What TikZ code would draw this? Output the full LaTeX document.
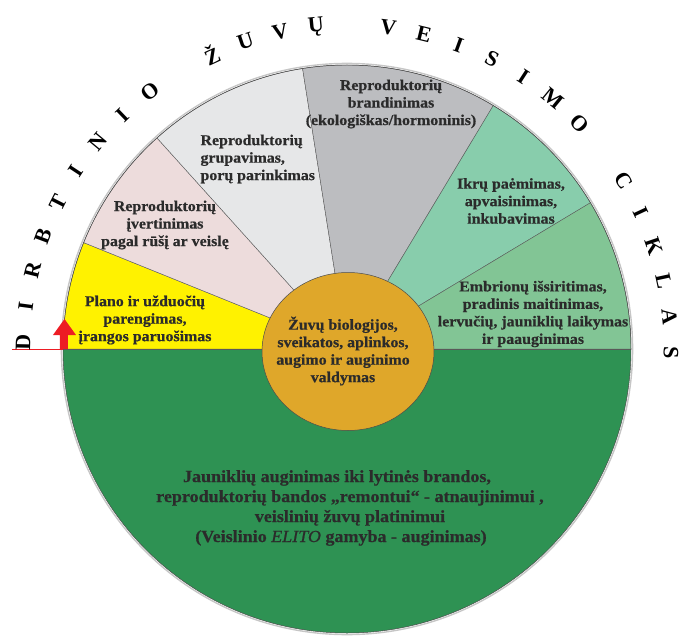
\documentclass[tikz,border=0pt]{standalone}
\usepackage{fontspec}
\setmainfont{Liberation Serif}
\newfontfamily\lblfont{Liberation Serif}[FakeStretch=1.06, FakeBold=0.6]
\definecolor{fyellow}{HTML}{FFF200}
\definecolor{fpink}{HTML}{EDDCDC}
\definecolor{flgray}{HTML}{E6E7E8}
\definecolor{fdgray}{HTML}{BCBDC0}
\definecolor{fteal}{HTML}{88CDAC}
\definecolor{fgreen}{HTML}{82C595}
\definecolor{dgreen}{HTML}{2E9253}
\definecolor{fgold}{HTML}{DFA72A}
\definecolor{txtgray}{HTML}{2B2B2B}
\definecolor{arrowred}{HTML}{ED1C24}
\tikzset{
  sector/.style={draw=black!65, line width=0.4pt},
  lbl/.style={align=center, text=txtgray, font=\lblfont\bfseries\fontsize{15}{17.5}\selectfont},
  biglbl/.style={align=center, text=txtgray, font=\lblfont\bfseries\fontsize{17}{20}\selectfont},
  ttl/.style={font=\bfseries\fontsize{22}{22}\selectfont, inner sep=0pt}
}
\begin{document}
\begin{tikzpicture}[x=1pt,y=1pt]
\useasboundingbox (-347,-286) rectangle (333,349);
\fill[dgreen] (0,0) -- (180:284) arc[start angle=180, end angle=360, radius=284] -- cycle;
\foreach \a/\b/\c in {180/158/fyellow, 158/132/fpink, 132/99/flgray, 99/59/fdgray, 59/31/fteal, 31/0/fgreen}
  \filldraw[sector, fill=\c] (0,0) -- (\a:284) arc[start angle=\a, end angle=\b, radius=284] -- cycle;
\draw[black!65] (-284,0) -- (284,0);
\draw[gray!45, line width=1.4pt] (0,0) circle[radius=285.6];
\draw[black!70, line width=0.5pt] (0,0) circle[radius=284];
\filldraw[fill=fgold, draw=black!70, line width=0.5pt] (1,-2.5) ellipse[x radius=86, y radius=79];
\draw[arrowred, line width=0.5pt] (-335,0) -- (-284,0);
\fill[arrowred] (-287,0) -- (-287,14) -- (-294,14) -- (-282.5,30) -- (-271,14) -- (-279,14) -- (-279,0) -- cycle;
\foreach \l [count=\i from 0, evaluate=\i as \ang using 178.8-\i*6.41] in
  {D,I,R,B,T,I,N,I,O,{},Ž,U,V,Ų,{},V,E,I,S,I,M,O,{},C,I,K,L,A,S}
  \node[ttl, rotate=\ang-90] (t\i) at (\ang:324) {\l};
\node[lbl] (plan) at (-202,29) {Plano ir užduočių\\parengimas,\\įrangos paruošimas};
\node[lbl] (ivert) at (-182,124) {Reproduktorių\\įvertinimas\\pagal rūšį ar veislę};
\node[lbl, align=left, anchor=west] (grup) at (-150,190) {Reproduktorių\\grupavimas,\\porų parinkimas};
\node[lbl] (brand) at (44,245) {Reproduktorių\\brandinimas\\(ekologiškas/hormoninis)};
\node[lbl] (ikru) at (164,148) {Ikrų paėmimas,\\apvaisinimas,\\inkubavimas};
\node[lbl] (embr) at (186,35) {Embrionų išsiritimas,\\pradinis maitinimas,\\lervučių, jauniklių laikymas\\ir paauginimas};
\node[lbl] (bio) at (-4,-2) {Žuvų biologijos,\\sveikatos, aplinkos,\\augimo ir auginimo\\valdymas};
\node[biglbl] (jaun) at (3,-159) {Jauniklių auginimas iki lytinės brandos,\hspace*{26pt}\\reproduktorių bandos „remontui“ - atnaujinimui ,\\veislinių žuvų platinimui\hspace*{56pt}\\(Veislinio {\mdseries\itshape ELITO} gamyba - auginimas)\hspace*{18pt}};
\end{tikzpicture}
\end{document}
